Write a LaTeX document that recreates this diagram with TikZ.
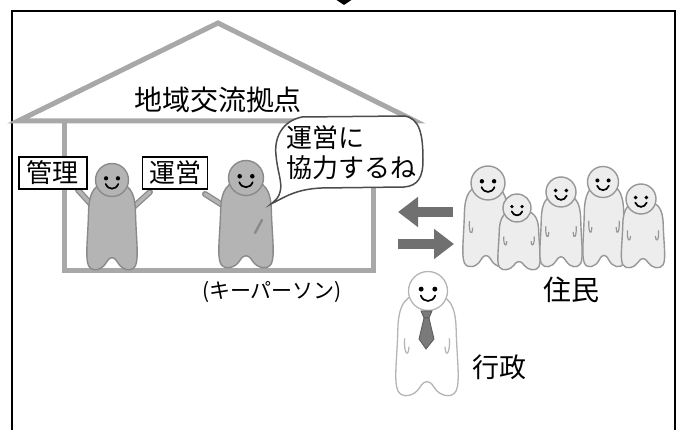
\documentclass[tikz,border=0pt]{standalone}
\usepackage{fontspec}
\newfontfamily\jp{Noto Sans CJK JP}
\usetikzlibrary{arrows.meta}

\definecolor{wallgray}{HTML}{A8A8A8}
\definecolor{keyfill}{HTML}{B4B4B4}
\definecolor{keyline}{HTML}{8A8A8A}
\definecolor{resfill}{HTML}{EDEDED}
\definecolor{resline}{HTML}{979797}
\definecolor{adminline}{HTML}{B5B5B5}
\definecolor{arrowgray}{HTML}{707070}
\definecolor{tiegray}{HTML}{7A7A7A}

\tikzset{
  % ghost-like body: origin hidden under the head, unit width and height (y grows downward)
  pics/blob/.style={code={
    \path[pic actions] (0,0) .. controls (0.36,0) and (0.46,0.12) .. (0.47,0.35)
      .. controls (0.48,0.62) and (0.54,0.86) .. (0.47,0.95)
      .. controls (0.40,1.03) and (0.2,1.0) .. (0.12,0.92)
      .. controls (0.07,0.87) and (0.03,0.86) .. (0,0.86)
      .. controls (-0.03,0.86) and (-0.07,0.87) .. (-0.12,0.92)
      .. controls (-0.2,1.0) and (-0.40,1.03) .. (-0.47,0.95)
      .. controls (-0.54,0.86) and (-0.48,0.62) .. (-0.47,0.35)
      .. controls (-0.46,0.12) and (-0.36,0) .. (0,0) -- cycle;
  }},
  % small hands resting at the sides of a body
  pics/hands/.style={code={
    \draw[pic actions] (-0.36,0.44) .. controls (-0.38,0.58) and (-0.30,0.64) .. (-0.29,0.52);
    \draw[pic actions] (0.36,0.44) .. controls (0.38,0.58) and (0.30,0.64) .. (0.29,0.52);
  }},
  % smiling face, unit radius
  pics/face/.style={code={
    \fill (-0.36,-0.1) circle (0.13);
    \fill (0.36,-0.1) circle (0.13);
    \draw[line width=1.7pt, line cap=round] (-0.38,0.24) .. controls (-0.24,0.62) and (0.24,0.62) .. (0.38,0.24);
  }},
  keyperson/.style={draw=keyline, fill=keyfill, line width=1.4pt},
  resident/.style={draw=resline, fill=resfill, line width=1.4pt},
  official/.style={draw=adminline, fill=white, line width=1.3pt},
  housepart/.style={draw=wallgray, line width=5pt},
  label/.style={font=\jp\fontsize{27}{30}\selectfont, inner sep=0pt},
  signboard/.style={draw=black, line width=1.6pt, fill=white, inner sep=0pt,
    font=\jp\fontsize{26}{28}\selectfont},
  bigarrow/.style={draw=arrowgray, line width=10pt,
    -{Triangle[width=29pt,length=20pt]}},
  arm/.style={line cap=round},
}

\begin{document}
\begin{tikzpicture}[x=1pt,y=-1pt]
\useasboundingbox (0,0) rectangle (681,430);
\clip (0,0) rectangle (681,430);

% outer frame and the tip of the arrow above it
\fill[black] (332,-3) -- (356,-3) -- (344,5) -- cycle;
\draw[line width=2.6pt] (12,440) -- (12,11) -- (675,11) -- (675,440);

% the community base: roof and walls
\draw[housepart, line join=miter] (18,121) -- (218,23) -- (415,121) -- cycle;
\draw[housepart] (64,122) -- (64,271) -- (373,271) -- (373,185);
\node[label, font=\jp\fontsize{28}{30}\selectfont] (base) at (218,100) {地域交流拠点};

% arms holding the signboards
\foreach \a/\b in {{98,212}/{78,190}, {128,212}/{150,192}, {227,208}/{205,194}}{
  \draw[arm, keyline, line width=6pt] (\a) -- (\b);
  \draw[arm, keyfill, line width=3.4pt] (\a) -- (\b);
}

% manager and key person
\pic[keyperson, xscale=50, yscale=88] at (112,182) {blob};
\draw[keyperson] (112,180) circle (16.5);
\pic[scale=16.5] at (112,180) {face};

\pic[keyperson, xscale=54, yscale=88] at (246,180) {blob};
\draw[keyperson] (246,178) circle (17.5);
\pic[scale=17.5] at (246,178) {face};
\draw[keyline, line width=2.4pt, line cap=round] (262,220) -- (255,233);

% signboards
\node[signboard, minimum width=68pt, minimum height=32pt] (kanri) at (53,173) {管理};
\node[signboard, minimum width=65pt, minimum height=32pt] (unei) at (175,173) {運営};

% speech bubble of the key person
\draw[fill=white, draw=black!70, line width=1.5pt]
  (302,117) .. controls (282,121) and (274,138) .. (276,155)
  .. controls (277,170) and (283,184) .. (280,192)
  .. controls (279,197) and (276,200) .. (271,204)
  .. controls (285,197) and (296,189) .. (322,188)
  -- (404,187) .. controls (418,186) and (423,177) .. (423,160)
  .. controls (423,135) and (420,118) .. (404,116) -- cycle;
\node[label, anchor=north west, align=left, font=\jp\fontsize{26}{30}\selectfont]
  (speech) at (286,125) {運営に\\協力するね};

\node[inner sep=0pt, font=\jp\fontsize{21}{24}\selectfont] (keyname) at (272,292) {(キーパーソン)};

% exchange between the base and the residents
\coordinate (inR) at (453,212);
\coordinate (inL) at (398,212);
\coordinate (outL) at (398,244);
\coordinate (outR) at (454,244);
\draw[bigarrow] (inR) -- (inL);
\draw[bigarrow] (outL) -- (outR);

% residents
\foreach \bx/\by/\bw/\bh/\hx/\hy/\hr in {
    486/185/46/82/488/183/17,
    519/210/42/60/517/208/14,
    561/194/42/73/561/192/15,
    604/184/42/83/603/182/15.5,
    643/201/43/67/641/199/15}{
  \pic[resident, xscale=\bw, yscale=\bh] at (\bx,\by) {blob};
  \pic[resline, line width=1.2pt, xscale=\bw, yscale=\bh] at (\bx,\by) {hands};
  \draw[resident] (\hx,\hy) circle (\hr);
  \pic[scale=\hr] at (\hx,\hy) {face};
}
\node[label, font=\jp\fontsize{28}{30}\selectfont] (jumin) at (571,290) {住民};

% administration
\pic[official, xscale=62, yscale=103] at (427,293) {blob};
\pic[adminline, line width=1.2pt, xscale=62, yscale=103] at (427,293) {hands};
\draw[official] (428,291) circle (19.5);
\pic[scale=19] at (428,291) {face};
\filldraw[fill=tiegray, draw=black!65, line width=0.8pt]
  (421,311) -- (432,311) -- (429,318) -- (424,318) -- cycle;
\filldraw[fill=tiegray, draw=black!65, line width=0.8pt]
  (424,318) -- (429,318) -- (434,339) -- (426,349) -- (419,339) -- cycle;
\node[label] (gyosei) at (499,367) {行政};

\end{tikzpicture}
\end{document}
